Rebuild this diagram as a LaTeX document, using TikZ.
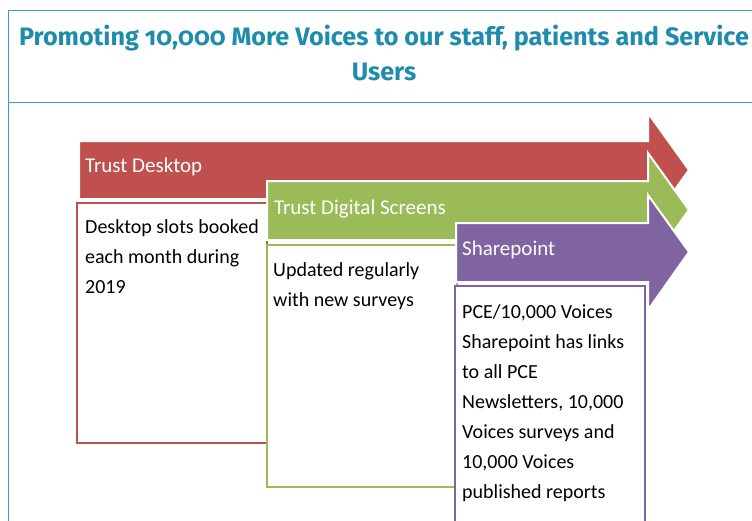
\documentclass[tikz,border=0pt]{standalone}
\usepackage{fontspec}
\setmainfont{Carlito}
\newfontfamily\titlefont[Numbers=OldStyle]{Fira Sans}
\definecolor{titleteal}{RGB}{30,140,172}
\definecolor{frameblue}{RGB}{50,162,200}
\definecolor{deskred}{RGB}{192,80,77}
\definecolor{screengreen}{RGB}{155,187,89}
\definecolor{sharepurple}{RGB}{128,100,162}
\tikzset{
  stackarrow/.style={draw=white,line width=2pt},
  infobox/.style={fill=white,line width=2.2pt},
  headtext/.style={anchor=base west,inner sep=0pt,text=white,
    font=\fontsize{21}{25}\selectfont},
  boxtext/.style={anchor=base west,inner sep=0pt,align=left,
    font=\fontsize{20}{30}\selectfont},
}

\begin{document}
\begin{tikzpicture}
           [x=1pt,y=-1pt]
           \useasboundingbox (0,0) rectangle (752,520);
           \clip (0,0) rectangle (752,520);

           % title frame (base = last line)
           \draw[frameblue,line width=1pt] (760,10) -- (8,10) -- (8,530);
           \draw[frameblue,line width=1pt] (8,102) -- (760,102);
           \node (title) [anchor=base,align=center,text=titleteal,
             font=\titlefont\bfseries\fontsize{25.2}{35}\selectfont] at (384,80)
             {Promoting 10,000 More Voices to our staff, patients and Service\\Users};

           % trust desktop
           \filldraw[fill=deskred,stackarrow] (79,141) -- (648,141) -- (648,113)
             -- (689,170) -- (648,227) -- (648,199) -- (79,199) -- cycle;
           \node (deskhead) [headtext] at (85,172) {Trust Desktop};
           \draw[infobox,draw=deskred] (77,203) rectangle (267,443);
           \node (desktext) [boxtext] at (85,293)
             {Desktop slots booked\\each month during\\2019};

           % trust digital screens
           \filldraw[fill=screengreen,stackarrow] (267,181) -- (648,181) -- (648,153)
             -- (689,210) -- (648,267) -- (648,240) -- (267,240) -- cycle;
           \node (screenhead) [headtext] at (274,214) {Trust Digital Screens};
           \draw[infobox,draw=screengreen] (267,245) rectangle (457,487);
           \node (screentext) [boxtext] at (273,306)
             {Updated regularly\\with new surveys};

           % sharepoint
           \filldraw[fill=sharepurple,stackarrow] (456,223) -- (648,223) -- (648,195)
             -- (689,252) -- (648,310) -- (648,282) -- (456,282) -- cycle;
           \node (sharehead) [headtext] at (462,255) {Sharepoint};
           \draw[infobox,draw=sharepurple] (455,286) rectangle (645,540);
           \node (sharetext) [boxtext] at (462,498)
             {PCE/10,000 Voices\\Sharepoint has links\\to all PCE\\Newsletters, 10,000\\Voices surveys and\\10,000 Voices\\published reports};
         \end{tikzpicture}
\end{document}
